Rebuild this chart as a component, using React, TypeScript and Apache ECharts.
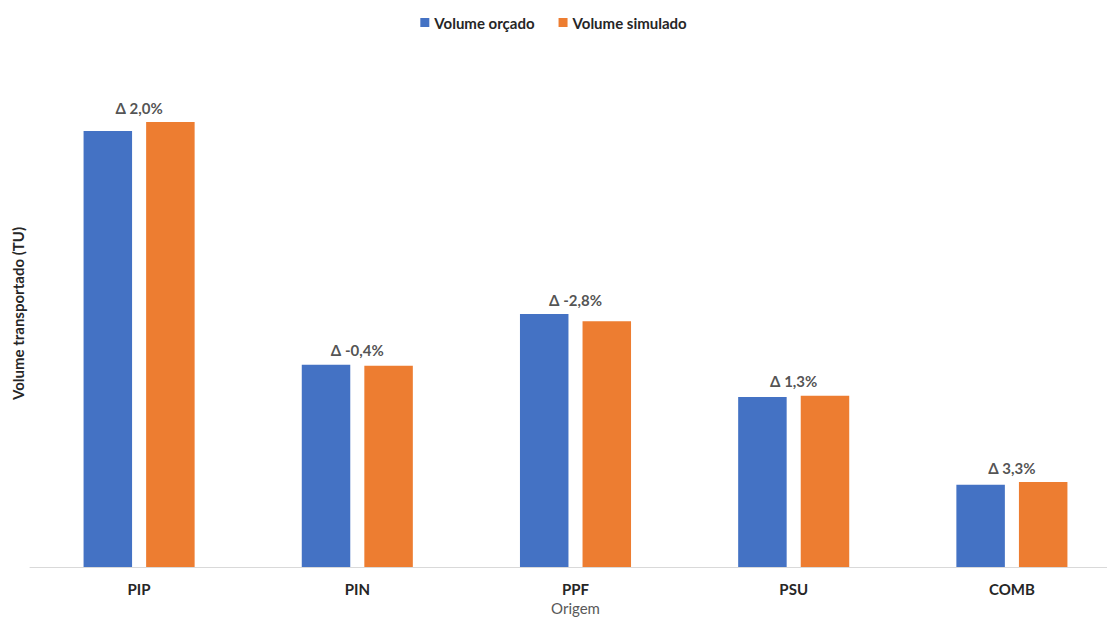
import React, { useEffect, useRef } from "react";
import * as echarts from "echarts";

const categories = ["PIP", "PIN", "PPF", "PSU", "COMB"];
const volumeOrcado = [436, 202.3, 253, 170, 82.3];
const volumeSimulado = [445, 201.3, 245.7, 171.3, 85];
const deltaLabels = ["Δ 2,0%", "Δ -0,4%", "Δ -2,8%", "Δ 1,3%", "Δ 3,3%"];

const FONT = "Lato, 'Open Sans', sans-serif";

export default function App() {
  const ref = useRef<HTMLDivElement>(null);
  useEffect(() => {
    if (!ref.current) return;
    const chart = echarts.init(ref.current, undefined, { renderer: "svg" });
    const pairMax = volumeOrcado.map((v, i) => Math.max(v, volumeSimulado[i]));
    chart.setOption({
      animation: false,
      backgroundColor: "#ffffff",
      textStyle: { fontFamily: FONT },
      legend: {
        data: ["Volume orçado", "Volume simulado"],
        top: 10,
        left: "center",
        itemWidth: 9,
        itemHeight: 9,
        itemGap: 24,
        icon: "rect",
        textStyle: { fontFamily: FONT, fontWeight: "bold", fontSize: 15, color: "#262626" },
      },
      grid: { left: 30, right: -14, top: 60, bottom: 50, containLabel: false, outerBoundsMode: "none" },
      xAxis: {
        type: "category",
        data: categories,
        name: "Origem",
        nameLocation: "middle",
        nameGap: 33,
        nameTextStyle: { fontFamily: FONT, fontSize: 15, color: "#595959" },
        axisLine: { show: true, lineStyle: { color: "#d9d9d9", width: 1 } },
        axisTick: { show: false },
        axisLabel: { fontFamily: FONT, fontWeight: "bold", fontSize: 15, color: "#262626", margin: 14 },
      },
      yAxis: {
        type: "value",
        min: 0,
        max: 507,
        name: "Volume transportado (TU)",
        nameLocation: "middle",
        nameGap: 5,
        nameRotate: 90,
        nameTextStyle: { fontFamily: FONT, fontWeight: "bold", fontSize: 15, color: "#262626" },
        axisLine: { show: false },
        axisTick: { show: false },
        axisLabel: { show: false },
        splitLine: { show: false },
      },
      series: [
        {
          name: "Volume orçado",
          type: "bar",
          data: volumeOrcado,
          barWidth: 48.5,
          barGap: "29%",
          itemStyle: { color: "#4472C4" },
        },
        {
          name: "Volume simulado",
          type: "bar",
          data: volumeSimulado,
          barWidth: 48.5,
          barGap: "29%",
          itemStyle: { color: "#ED7D31" },
        },
        {
          name: "delta",
          type: "scatter",
          data: pairMax,
          symbolSize: 0,
          silent: true,
          label: {
            show: true,
            position: "top",
            distance: 7,
            fontFamily: FONT,
            fontWeight: "bold",
            fontSize: 15,
            color: "#262626",
            formatter: (p: any) => deltaLabels[p.dataIndex],
          },
        },
      ],
    });
    return () => chart.dispose();
  }, []);
  return (
    <div
      ref={ref}
      style={{ position: "absolute", left: 0, top: 0, width: 1107, height: 617 }}
    />
  );
}
